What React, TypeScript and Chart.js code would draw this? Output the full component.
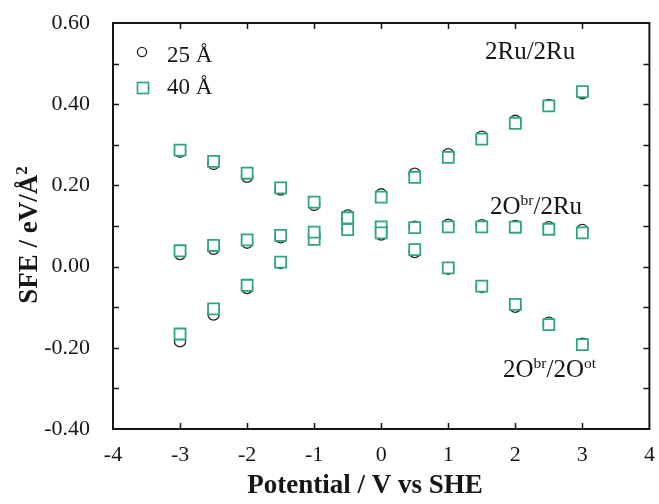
import React, { useEffect, useRef } from "react";
import { Chart, registerables } from "chart.js";

Chart.register(...registerables);

// Applied potential (V vs SHE)
const potentials = [-3, -2.5, -2, -1.5, -1, -0.5, 0, 0.5, 1, 1.5, 2, 2.5, 3];

// Surface free energy (eV/Å²), 25 Å slab
const ru25 = [-0.184, -0.118, -0.053, 0.009, 0.07, 0.126, 0.178, 0.229, 0.277, 0.32, 0.359, 0.398, 0.427];
const obrRu25 = [0.031, 0.044, 0.059, 0.072, 0.08, 0.092, 0.097, 0.098, 0.103, 0.102, 0.1, 0.097, 0.09];
const obrOot25 = [0.283, 0.253, 0.221, 0.19, 0.152, 0.117, 0.079, 0.036, -0.005, -0.05, -0.099, -0.138, -0.19];

// Surface free energy (eV/Å²), 40 Å slab
const ru40 = [-0.166, -0.104, -0.046, 0.011, 0.067, 0.12, 0.171, 0.22, 0.269, 0.314, 0.353, 0.396, 0.431];
const obrRu40 = [0.039, 0.052, 0.066, 0.077, 0.085, 0.091, 0.098, 0.096, 0.098, 0.098, 0.097, 0.092, 0.083];
const obrOot40 = [0.287, 0.259, 0.23, 0.194, 0.159, 0.12, 0.083, 0.042, -0.003, -0.048, -0.093, -0.143, -0.192];

// Axis ticks
const xTicks = [-4, -3, -2, -1, 0, 1, 2, 3, 4];
const yTicks = [-0.4, -0.2, 0, 0.2, 0.4, 0.6];
const yMinorTicks = [-0.3, -0.2, -0.1, 0, 0.1, 0.2, 0.3, 0.4, 0.5];
const xInnerTicks = [-3, -2, -1, 0, 1, 2, 3];

const SERIF = '"Liberation Serif", "Times New Roman", Times, serif';
const GREEN = "#2fa77a";
const INK = "#161616";

type Part = { t: string; sup?: boolean };

function toPoints(ys: number[]) {
  return potentials.map((x, i) => ({ x, y: ys[i] }));
}

function richWidth(ctx: CanvasRenderingContext2D, parts: Part[], size: number, weight: string) {
  let w = 0;
  for (const p of parts) {
    ctx.font = `${weight} ${p.sup ? size * 0.62 : size}px ${SERIF}`;
    w += ctx.measureText(p.t).width;
  }
  return w;
}

function drawRich(
  ctx: CanvasRenderingContext2D,
  x: number,
  y: number,
  parts: Part[],
  size: number,
  weight = "normal",
  align: "left" | "center" = "left"
) {
  let cx = align === "center" ? x - richWidth(ctx, parts, size, weight) / 2 : x;
  ctx.textAlign = "left";
  ctx.textBaseline = "alphabetic";
  for (const p of parts) {
    const s = p.sup ? size * 0.62 : size;
    ctx.font = `${weight} ${s}px ${SERIF}`;
    ctx.fillText(p.t, cx, p.sup ? y - size * 0.36 : y);
    cx += ctx.measureText(p.t).width;
  }
}

// Frame with inward tick marks on all four sides
const framePlugin = {
  id: "frame",
  afterDraw(chart: any) {
    const { ctx, chartArea: a } = chart;
    const xs = chart.scales.x;
    const ys = chart.scales.y;
    const len = 6;
    ctx.save();
    ctx.strokeStyle = INK;
    ctx.lineWidth = 1.5;
    ctx.beginPath();
    for (const v of xInnerTicks) {
      const px = Math.round(xs.getPixelForValue(v)) + 0.5;
      ctx.moveTo(px, a.bottom);
      ctx.lineTo(px, a.bottom - len);
      ctx.moveTo(px, a.top);
      ctx.lineTo(px, a.top + len);
    }
    for (const v of yMinorTicks) {
      const py = Math.round(ys.getPixelForValue(v)) + 0.5;
      ctx.moveTo(a.left, py);
      ctx.lineTo(a.left + len, py);
      ctx.moveTo(a.right, py);
      ctx.lineTo(a.right - len, py);
    }
    ctx.stroke();
    ctx.lineWidth = 2;
    ctx.strokeRect(a.left, a.top, a.right - a.left, a.bottom - a.top);
    ctx.restore();
  },
};

// Legend, branch labels and axis titles
const textPlugin = {
  id: "texts",
  afterDraw(chart: any) {
    const { ctx } = chart;
    ctx.save();
    ctx.fillStyle = INK;

    // legend
    ctx.lineWidth = 1.3;
    ctx.strokeStyle = "#222";
    ctx.beginPath();
    ctx.arc(142, 52, 4.6, 0, Math.PI * 2);
    ctx.stroke();
    ctx.lineWidth = 1.7;
    ctx.strokeStyle = GREEN;
    ctx.strokeRect(137.5, 82.5, 11, 11);
    drawRich(ctx, 167, 62, [{ t: "25 Å" }], 23);
    drawRich(ctx, 167, 94, [{ t: "40 Å" }], 23);

    // branch labels
    drawRich(ctx, 485, 59, [{ t: "2Ru/2Ru" }], 25);
    drawRich(ctx, 490, 214, [{ t: "2O" }, { t: "br", sup: true }, { t: "/2Ru" }], 25);
    drawRich(
      ctx,
      503,
      377,
      [{ t: "2O" }, { t: "br", sup: true }, { t: "/2O" }, { t: "ot", sup: true }],
      25
    );

    // axis titles
    drawRich(ctx, 365, 493, [{ t: "Potential / V vs SHE" }], 27, "bold", "center");
    ctx.translate(37, 235);
    ctx.rotate(-Math.PI / 2);
    drawRich(ctx, 0, 0, [{ t: "SFE / eV/Å" }, { t: "2", sup: true }], 27, "bold", "center");
    ctx.restore();
  },
};

export default function App() {
  const canvasRef = useRef<HTMLCanvasElement>(null);

  useEffect(() => {
    const canvas = canvasRef.current;
    if (!canvas) return;
    const tickFont = { family: SERIF, size: 22 };
    const chart = new Chart(canvas, {
      type: "scatter",
      data: {
        datasets: [
          {
            label: "40 Å",
            data: [...toPoints(ru40), ...toPoints(obrRu40), ...toPoints(obrOot40)],
            pointStyle: "rect",
            pointRadius: 7.8,
            pointHoverRadius: 7.8,
            borderWidth: 1.8,
            borderColor: GREEN,
            backgroundColor: "#ffffff",
            showLine: false,
            order: 0,
          },
          {
            label: "25 Å",
            data: [...toPoints(ru25), ...toPoints(obrRu25), ...toPoints(obrOot25)],
            pointStyle: "circle",
            pointRadius: 5.6,
            pointHoverRadius: 5.6,
            borderWidth: 1.3,
            borderColor: "#222222",
            backgroundColor: "#ffffff",
            showLine: false,
            order: 1,
          },
        ],
      },
      options: {
        responsive: false,
        devicePixelRatio: 1,
        animation: false,
        events: [],
        layout: { padding: { top: 23, right: 6, left: 0, bottom: 0 } },
        plugins: { legend: { display: false }, tooltip: { enabled: false } },
        scales: {
          x: {
            type: "linear",
            min: -4,
            max: 4,
            afterBuildTicks: (s: any) => {
              s.ticks = xTicks.map((value) => ({ value }));
            },
            afterFit: (s: any) => {
              s.height = 75;
              s.paddingLeft = 0;
              s.paddingRight = 0;
            },
            grid: { display: false, drawTicks: false },
            border: { display: false },
            ticks: {
              font: tickFont,
              color: INK,
              padding: 13,
              maxRotation: 0,
              autoSkip: false,
              callback: (v: any) => String(v),
            },
          },
          y: {
            type: "linear",
            min: -0.4,
            max: 0.6,
            afterBuildTicks: (s: any) => {
              s.ticks = yTicks.map((value) => ({ value }));
            },
            afterFit: (s: any) => {
              s.width = 113;
              s.paddingTop = 0;
              s.paddingBottom = 0;
            },
            grid: { display: false, drawTicks: false },
            border: { display: false },
            ticks: {
              font: tickFont,
              color: INK,
              padding: 23,
              autoSkip: false,
              callback: (v: any) => {
                const n = Number(v);
                return (Math.abs(n) < 1e-9 ? 0 : n).toFixed(2);
              },
            },
          },
        },
      },
      plugins: [framePlugin, textPlugin],
    } as any);
    return () => chart.destroy();
  }, []);

  return (
    <div style={{ position: "absolute", left: 0, top: 0, width: 659, height: 504, background: "#fff" }}>
      <canvas ref={canvasRef} width={659} height={504} style={{ display: "block", width: 659, height: 504 }} />
    </div>
  );
}
